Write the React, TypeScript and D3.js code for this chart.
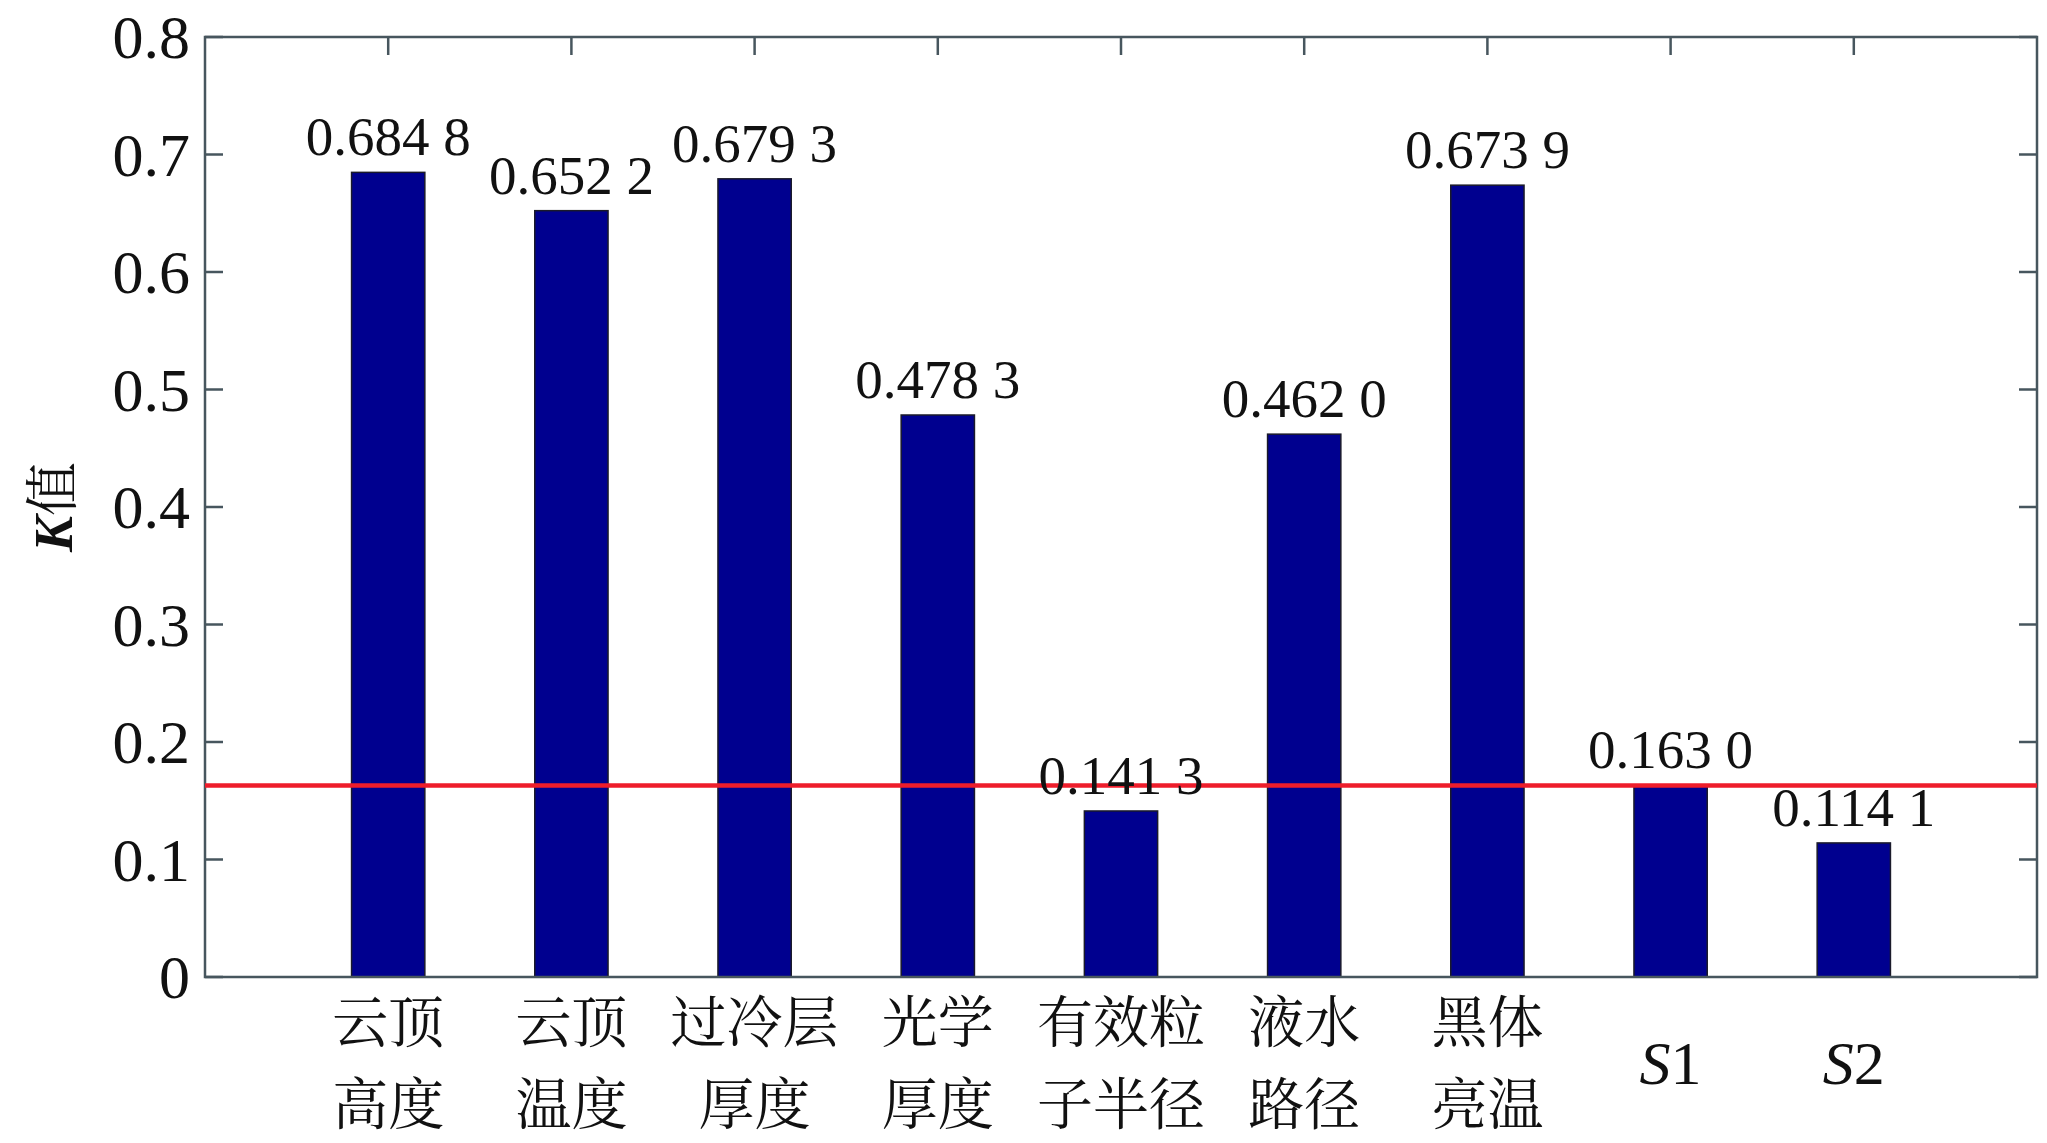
import * as d3 from "d3";

const WIDTH = 2047;
const HEIGHT = 1143;

// categories (two label lines each), K values, threshold
const categoryLine1 = ["云顶", "云顶", "过冷层", "光学", "有效粒", "液水", "黑体", "S1", "S2"];
const categoryLine2 = ["高度", "温度", "厚度", "厚度", "子半径", "路径", "亮温", "", ""];
const kValues = [0.6848, 0.6522, 0.6793, 0.4783, 0.1413, 0.462, 0.6739, 0.163, 0.1141];
const threshold = 0.163;
const yTicks = [0, 0.1, 0.2, 0.3, 0.4, 0.5, 0.6, 0.7, 0.8];

const LATIN = "Liberation Serif";
const CJK = "Noto Serif CJK SC";
const AXIS = "#47565e";

function formatK(v: number) {
    const s = v.toFixed(4);
    return `${s.slice(0, 5)} ${s.slice(5)}`;
}

export default function App() {
    const margin = { top: 37, right: 10, bottom: 166, left: 205 };
    const x = d3.scaleLinear().domain([0, 10]).range([margin.left, WIDTH - margin.right]);
    const y = d3.scaleLinear().domain([0, 0.8]).range([HEIGHT - margin.bottom, margin.top]);
    const [x0, x1] = x.range();
    const [y0, y1] = y.range();
    const barW = x(0.4) - x(0);
    const tick = 18;

    return (
        <div style={{ position: "absolute", left: 0, top: 0 }}>
            <svg width={WIDTH} height={HEIGHT} style={{ display: "block", background: "#fff" }}>
                {/* bars */}
                {kValues.map((v, i) => (
                    <rect
                        key={`b${i}`}
                        x={x(i + 1) - barW / 2}
                        y={y(v)}
                        width={barW}
                        height={y(0) - y(v)}
                        fill="#00008f"
                        stroke="#1a1a2a"
                        strokeWidth={1.5}
                    />
                ))}

                {/* ticks: left/right for y, top for x */}
                {yTicks.map((t) => (
                    <g key={`yt${t}`} stroke={AXIS} strokeWidth={2.5}>
                        <line x1={x0} x2={x0 + tick} y1={y(t)} y2={y(t)} />
                        <line x1={x1} x2={x1 - tick} y1={y(t)} y2={y(t)} />
                    </g>
                ))}
                {kValues.map((_, i) => (
                    <line key={`xt${i}`} x1={x(i + 1)} x2={x(i + 1)} y1={y1} y2={y1 + tick} stroke={AXIS} strokeWidth={2.5} />
                ))}

                {/* box */}
                <rect x={x0} y={y1} width={x1 - x0} height={y0 - y1} fill="none" stroke={AXIS} strokeWidth={2.5} />

                {/* threshold line */}
                <line x1={x0} x2={x1} y1={y(threshold)} y2={y(threshold)} stroke="#ee1d2b" strokeWidth={4.5} />

                {/* value labels */}
                {kValues.map((v, i) => (
                    <text key={`v${i}`} x={x(i + 1)} y={y(v) - 17} textAnchor="middle" fontSize={55} fontFamily={LATIN} fill="#111">
                        {formatK(v)}
                    </text>
                ))}

                {/* y tick labels */}
                {yTicks.map((t) => (
                    <text key={`yl${t}`} x={x0 - 15} y={y(t)} dy="0.34em" textAnchor="end" fontSize={62} fontFamily={LATIN} fill="#111">
                        {t === 0 ? "0" : t.toFixed(1)}
                    </text>
                ))}

                {/* category labels */}
                {categoryLine1.map((c, i) =>
                    categoryLine2[i] ? (
                        <g key={`c${i}`} fontSize={56} fontFamily={CJK} fill="#111" textAnchor="middle">
                            <text x={x(i + 1)} y={1021} dy="0.38em">{c}</text>
                            <text x={x(i + 1)} y={1103} dy="0.38em">{categoryLine2[i]}</text>
                        </g>
                    ) : (
                        <text key={`c${i}`} x={x(i + 1)} y={1062} dy="0.35em" textAnchor="middle" fontSize={62} fontFamily={LATIN} fill="#111">
                            <tspan fontStyle="italic">{c.slice(0, 1)}</tspan>
                            <tspan>{c.slice(1)}</tspan>
                        </text>
                    )
                )}

                {/* y axis title */}
                <text transform={`translate(53,${(y0 + y1) / 2}) rotate(-90)`} textAnchor="middle" dy="0.35em" fontSize={54} fill="#111">
                    <tspan fontFamily={LATIN} fontStyle="italic" fontWeight="bold">K</tspan>
                    <tspan fontFamily={CJK}>值</tspan>
                </text>
            </svg>
        </div>
    );
}
